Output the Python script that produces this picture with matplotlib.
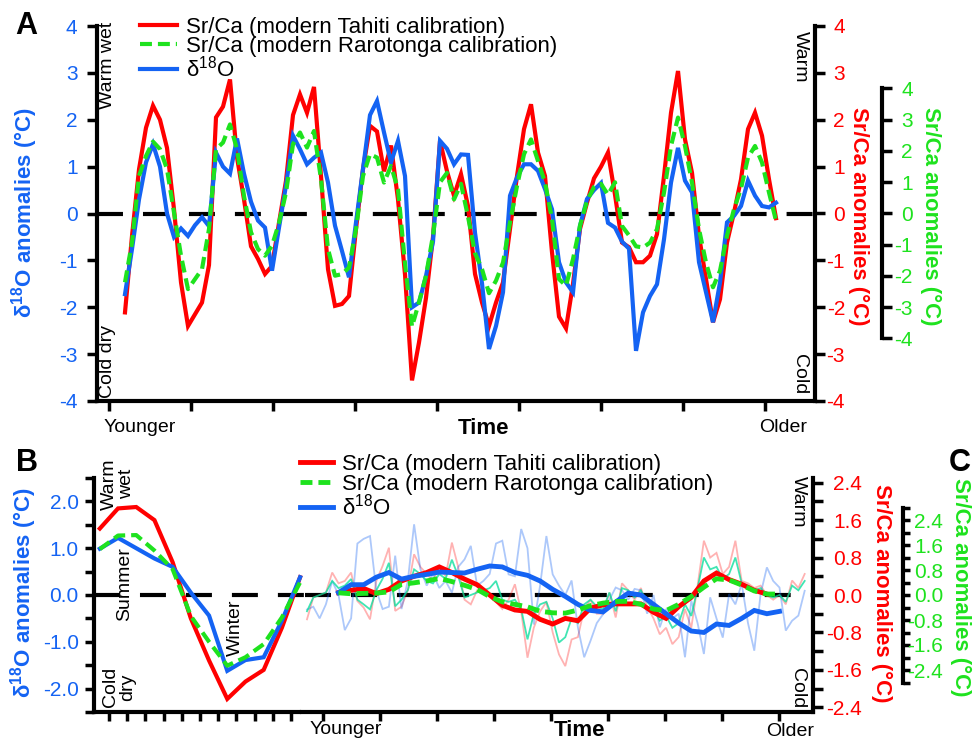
import numpy as np
import matplotlib
matplotlib.use("Agg")
import matplotlib.pyplot as plt
from matplotlib.lines import Line2D

W, H = 974, 740

# ---------------- data ----------------
# Panel A: anomalies (deg C), one value per sample
tahiti_a = [-2.11, -0.48, 0.94, 1.83, 2.30, 2.00, 1.40, 0.09, -1.47, -2.40,
            -2.15, -1.90, -1.10, 2.05, 2.28, 2.86, 1.20, 0.30, -0.70, -0.97,
            -1.29, -1.12, -0.20, 0.70, 2.10, 2.54, 2.15, 2.70, 0.80, -1.19,
            -1.97, -1.93, -1.76, -0.33, 0.95, 1.87, 1.75, 0.90, 1.45, 0.30,
            -1.30, -3.56, -2.75, -1.80, -0.50, 1.55, 0.90, 0.38, 0.84, 0.16,
            -1.29, -1.90, -2.40, -1.90, -1.47, -0.33, 0.80, 1.80, 2.33, 1.30,
            0.80, -0.83, -2.20, -2.45, -1.50, -0.33, 0.23, 0.75, 1.00, 1.30,
            0.40, -0.62, -0.72, -1.04, -1.04, -0.90, -0.44, 0.80, 2.15, 3.04,
            1.58, 0.87, -0.48, -1.40, -2.32, -1.83, -0.62, 0.02, 0.73, 1.80,
            2.15, 1.66, 0.73, -0.10]
rarotonga_a = [-2.20, -0.93, 1.20, 1.84, 2.30, 2.06, 1.42, 0.03, -1.35, -2.42,
               -2.10, -1.78, -0.50, 2.06, 2.27, 2.85, 2.06, 0.56, -0.60, -1.14,
               -1.35, -1.03, -0.30, 0.67, 2.22, 2.59, 2.11, 2.64, 1.10, -1.14,
               -1.99, -1.94, -1.73, -0.50, 1.20, 1.90, 1.79, 0.99, 1.52, 0.78,
               -1.60, -3.62, -2.84, -1.99, -0.70, 1.00, 1.30, 0.45, 0.95, -0.10,
               -1.27, -1.78, -2.55, -2.15, -1.57, -0.29, 0.88, 1.90, 2.37, 1.68,
               0.99, -0.18, -2.10, -2.31, -1.46, -0.39, 0.40, 0.85, 0.95, 0.60,
               1.00, -0.40, -0.70, -1.05, -1.09, -0.93, -0.50, 0.67, 2.16, 3.07,
               2.16, 0.99, -0.50, -1.57, -2.36, -1.83, -0.71, 0.14, 0.80, 1.79,
               2.16, 1.63, 0.67, -0.23]
d18o_a = [-1.72, -0.76, 0.30, 1.09, 1.48, 1.00, 0.00, -0.50, -0.32, -0.48,
          -0.25, -0.08, -0.27, 1.30, 1.00, 0.85, 1.60, 0.85, 0.25, -0.15,
          -0.30, -1.22, -0.30, 0.60, 1.66, 1.37, 1.05, 1.19, 1.30, 0.66,
          -0.26, -0.80, -1.36, -0.19, 0.95, 2.10, 2.40, 1.73, 1.09, 1.55,
          0.80, -2.00, -1.90, -1.33, -0.60, 1.55, 1.38, 1.05, 1.26, 1.25,
          -0.41, -1.49, -2.89, -2.40, -1.68, 0.38, 0.77, 1.05, 1.05, 0.91,
          0.52, 0.09, -1.04, -1.47, -1.68, -0.26, 0.31, 0.50, 0.65, -0.20,
          -0.30, -0.60, -0.75, -2.93, -2.11, -1.76, -1.51, -0.55, 0.66, 1.40,
          0.70, 0.45, -1.04, -1.68, -2.32, -1.47, -0.19, -0.05, 0.16, 0.70,
          0.38, 0.16, 0.13, 0.23]

# Panel B: mean seasonal cycle (12 months)
tahiti_b = [1.42, 1.85, 1.88, 1.60, 0.70, -0.50, -1.40, -2.22, -1.85, -1.60, -0.70, 0.38]
rarotonga_b = [0.98, 1.27, 1.28, 0.95, 0.55, -0.45, -1.00, -1.51, -1.33, -1.05, -0.48, 0.27]
d18o_b = [0.99, 1.22, 1.00, 0.78, 0.60, 0.05, -0.44, -1.62, -1.39, -1.33, -0.55, 0.38]

# Panel C: deseasonalised anomalies, raw and running mean
tahiti_c_raw = [-0.52, -0.05, 0.00, 0.05, 0.48, 0.25, 0.30, 0.48, -0.13, -0.27,
                -0.52, 0.30, 0.62, 1.01, -0.34, -0.25, 0.10, 0.87, 0.60, 0.45,
                0.30, 0.62, 0.40, 1.12, 0.60, -0.10, -0.20, 0.10, 0.05, 0.00,
                -0.15, -0.30, -0.10, 0.23, -0.35, -1.34, -0.70, -0.35, -0.15, -0.80,
                -1.27, -1.52, -0.95, -0.90, -0.30, -0.10, -0.40, -0.40, 0.05, -0.48,
                0.25, 0.10, -0.10, 0.15, -0.25, -0.50, -0.84, -0.70, -1.05, -0.90,
                -0.30, -0.70, 0.20, 1.16, 0.80, 0.90, 0.45, 0.60, 1.16, 0.30,
                0.25, 0.15, 0.20, 0.00, -0.10, 0.00, -0.20, 0.31, 0.15, 0.45]
rarotonga_c_raw = [-0.52, -0.08, 0.00, 0.08, 0.45, 0.22, 0.30, 0.51, -0.15, -0.30,
                   -0.46, 0.15, 0.52, 1.03, -0.36, -0.15, 0.15, 0.82, 0.67, 0.45,
                   0.37, 0.67, 0.52, 1.13, 0.60, -0.08, 0.00, 0.08, 0.15, 0.22,
                   0.45, -0.15, -0.22, -0.15, -0.45, -1.42, -0.60, -0.30, -0.22, -0.75,
                   -1.52, -1.35, -0.75, -0.90, -0.30, -0.15, -0.37, -0.45, 0.08, -0.52,
                   0.22, 0.15, -0.08, 0.15, -0.22, -0.45, -0.82, -0.67, -1.05, -0.90,
                   -0.30, -0.67, 0.22, 1.20, 0.82, 0.90, 0.52, 0.67, 1.20, 0.37,
                   0.30, 0.15, 0.22, 0.00, -0.08, 0.00, -0.22, 0.30, 0.15, 0.45]
d18o_c_raw = [-0.31, -0.25, -0.50, -0.20, 0.30, 0.00, -0.75, -0.50, 1.10, 1.20,
              1.26, 0.10, -0.30, -0.25, 0.84, -0.30, 0.30, 1.51, 0.55, 0.20,
              0.45, 0.15, 0.30, 0.05, 0.60, 0.76, 1.05, 0.20, 0.30, 0.45,
              1.10, 1.16, 0.44, 0.40, 1.41, 1.00, -0.63, 0.20, 1.26, 0.44,
              0.20, 0.00, 0.31, -0.69, -1.33, -0.98, -0.60, -0.41, -0.10, 0.16,
              0.10, -0.10, 0.13, 0.10, -0.40, 0.00, -0.69, -0.30, -0.50, -0.40,
              -1.33, -0.12, -0.60, -1.26, -0.05, -0.50, -0.91, 0.02, -0.20, 0.24,
              -0.60, -1.19, 0.02, 0.59, 0.30, 0.16, -0.76, -0.55, -0.44, 0.09]
tahiti_c_smooth = [0.05, 0.10, 0.14, 0.03, 0.12, 0.30, 0.40, 0.48, 0.60, 0.48,
                   0.34, 0.22, 0.00, -0.22, -0.32, -0.35, -0.52, -0.62, -0.50, -0.55,
                   -0.28, -0.21, -0.19, -0.19, -0.19, -0.37, -0.50, -0.25, -0.05, 0.30,
                   0.47, 0.33, 0.23, 0.10, 0.02, np.nan]
rarotonga_c_smooth = [0.07, 0.04, 0.05, 0.06, 0.10, 0.34, 0.39, 0.45, 0.53, 0.43,
                      0.31, 0.18, -0.05, -0.22, -0.30, -0.38, -0.52, -0.57, -0.58, -0.48,
                      -0.34, -0.26, -0.21, -0.20, -0.30, -0.45, -0.50, -0.30, -0.05, 0.25,
                      0.52, 0.48, 0.32, 0.13, 0.03, 0.03]
d18o_c_smooth = [0.05, 0.22, 0.22, 0.38, 0.48, 0.34, 0.40, 0.44, 0.49, 0.48,
                 0.47, 0.55, 0.62, 0.60, 0.48, 0.42, 0.30, 0.12, -0.03, -0.20,
                 -0.33, -0.36, -0.15, 0.04, 0.00, -0.20, -0.40, -0.60, -0.77, -0.80,
                 -0.62, -0.65, -0.50, -0.33, -0.40, -0.35]

legend_labels = ["Sr/Ca (modern Tahiti calibration)",
                 "Sr/Ca (modern Rarotonga calibration)",
                 "δ$^{18}$O"]

RED = "#ff0000"
GREEN = "#1ee21e"
BLUE = "#1463f3"
TURQ = "#00dd99"
ZERO_DASH = (18.7, 14.4)
GREEN_DASH = (8.6, 4.3)

plt.rcParams.update({
    "font.family": "Liberation Sans",
    "mathtext.fontset": "custom",
    "mathtext.rm": "Liberation Sans",
    "mathtext.bf": "Liberation Sans:bold",
    "mathtext.it": "Liberation Sans:italic",
    "axes.unicode_minus": False,
    "lines.scale_dashes": False,
    "lines.solid_joinstyle": "miter",
})


def rect(l, t, r, b):
    return [l / W, 1 - b / H, (r - l) / W, (b - t) / H]


def ftext(x, y, s, **kw):
    kw.setdefault("ha", "center")
    kw.setdefault("va", "center")
    return fig.text(x / W, 1 - y / H, s, **kw)


def clean(ax, keep):
    for side, sp in ax.spines.items():
        sp.set_visible(side in keep)
        sp.set_linewidth(3)


def right_labels(ax, color, pad, length=7):
    ax.tick_params(axis="y", direction="out", length=length, width=2.5,
                   labelsize=15, labelcolor=color, pad=pad)
    for t in ax.get_yticklabels():
        t.set_ha("right")


fig = plt.figure(figsize=(W / 100, H / 100), dpi=100)

# ---------------- panel A ----------------
axA = fig.add_axes(rect(97, 26, 815, 401))
axR = axA.twinx()
axG = axA.twinx()
xa = np.arange(len(tahiti_a))
axA.axhline(0, color="k", lw=3, dashes=ZERO_DASH)
lr, = axA.plot(xa, tahiti_a, color=RED, lw=3)
lb, = axA.plot(xa, d18o_a, color=BLUE, lw=3)
lg, = axG.plot(xa, rarotonga_a, color=GREEN, lw=3, dashes=GREEN_DASH)
axA.set_xlim(-4, 98.57)
axA.set_ylim(-4, 4)
axR.set_ylim(-4, 4)
axG.set_ylim(-6, 6)
axA.set_xticks(-16 / 7 + np.arange(9) * 82 / 7)
axA.tick_params(axis="x", direction="out", length=7, width=2.5, labelbottom=False)
axA.set_yticks(range(-4, 5))
axA.tick_params(axis="y", direction="out", length=7, width=2.5, labelsize=15,
                labelcolor=BLUE, pad=7)
clean(axA, ["left", "bottom"])
clean(axR, ["right"])
clean(axG, ["right"])
axR.set_yticks(range(-4, 5))
right_labels(axR, RED, 14.6)
axG.spines["right"].set_position(("axes", (882 - 97) / 718))
axG.spines["right"].set_bounds(-4, 4)
axG.set_yticks(range(-4, 5))
right_labels(axG, GREEN, 15.3)
axG.legend([lr, lg, lb], legend_labels, loc="upper left",
           bbox_to_anchor=(140 / W, 1 - 17 / H), bbox_transform=fig.transFigure,
           frameon=False, fontsize=16, handlelength=1.65, handletextpad=0.4,
           labelspacing=-0.08, borderpad=0, borderaxespad=0)

# ---------------- panel B ----------------
axB = fig.add_axes(rect(94, 478, 305, 712))
xb = np.arange(len(tahiti_b))
axB.axhline(0, color="k", lw=3, dashes=ZERO_DASH)
axB.plot(xb, tahiti_b, color=RED, lw=3)
axB.plot(xb, d18o_b, color=BLUE, lw=3)
axB.plot(xb, rarotonga_b, color=GREEN, lw=3, dashes=GREEN_DASH)
axB.set_xlim(-0.32, 11.27)
axB.set_ylim(-2.5, 2.5)
axB.set_xticks(np.arange(11) + 0.5)
axB.tick_params(axis="x", direction="out", length=6.5, width=2.5, labelbottom=False)
yb = np.arange(-2.5, 2.51, 0.5)
axB.set_yticks(yb)
axB.set_yticklabels(["%.1f" % (round(v, 1) + 0.0) if i % 2 else "" for i, v in enumerate(yb)])
axB.tick_params(axis="y", direction="out", length=6.5, width=2.5, labelsize=15,
                labelcolor=BLUE, pad=4.5)
clean(axB, ["left", "bottom"])
axB.spines["bottom"].set_bounds(-0.32, 10.95)

# ---------------- panel C ----------------
axC = fig.add_axes(rect(305, 478, 813, 712))
axCG = axC.twinx()
xc = np.arange(len(tahiti_c_raw))
xs = np.arange(5, 5 + 2 * len(d18o_c_smooth), 2)
axC.axhline(0, color="k", lw=3, dashes=ZERO_DASH)
axC.plot(xc, tahiti_c_raw, color=RED, alpha=0.3, lw=1.3)
axC.plot(xc, d18o_c_raw, color=BLUE, alpha=0.35, lw=1.3)
axC.plot(xc, rarotonga_c_raw, color=TURQ, alpha=0.75, lw=1.3, transform=axCG.transData)
cr, = axC.plot(xs, tahiti_c_smooth, color=RED, lw=3.5)
cb, = axC.plot(xs, d18o_c_smooth, color=BLUE, lw=3.5)
cg, = axCG.plot(xs, rarotonga_c_smooth, color=GREEN, lw=3.5, dashes=GREEN_DASH)
axC.set_xlim(-0.317, 80.32)
axC.set_ylim(-2.5, 2.5)
axCG.set_ylim(-117 / 31.25, 117 / 31.25)
axC.set_xticks(16 / 6.3 + np.arange(9) * 57 / 6.3)
axC.tick_params(axis="x", direction="out", length=6.5, width=2.5, labelbottom=False)
clean(axC, ["right", "bottom"])
clean(axCG, ["right"])
axC.spines["bottom"].set_bounds(0.95, 80.32)
axC.yaxis.tick_right()
yc = np.arange(-2.4, 2.41, 0.4)
axC.set_yticks(yc)
axC.set_yticklabels(["%.1f" % (round(v, 1) + 0.0) if i % 2 == 0 else "" for i, v in enumerate(yc)])
right_labels(axC, RED, 28.3)
ycg = np.arange(-2.8, 2.81, 0.4)
axCG.spines["right"].set_position(("axes", (903 - 305) / 508))
axCG.spines["right"].set_bounds(-2.8, 2.8)
axCG.set_yticks(ycg)
axCG.set_yticklabels(["%.1f" % (round(v, 1) + 0.0) if i % 2 else "" for i, v in enumerate(ycg)])
right_labels(axCG, GREEN, 23.8, length=5)
axCG.legend([cr, cg, cb], legend_labels, loc="upper left",
            bbox_to_anchor=(300 / W, 1 - 454 / H), bbox_transform=fig.transFigure,
            frameon=False, fontsize=16, handlelength=1.5, handletextpad=0.4,
            labelspacing=-0.05, borderpad=0, borderaxespad=0)

# axis break between B and C
fig.add_artist(Line2D([302 / W, 309 / W], [1 - 712 / H] * 2, color="k", lw=3,
                      transform=fig.transFigure))

# ---------------- texts ----------------
ylab = "δ$^{\\mathbf{18}}$O anomalies (°C)"
srlab = "Sr/Ca anomalies (°C)"
ftext(25, 213, ylab, rotation=90, color=BLUE, fontsize=16, fontweight="bold")
ftext(859, 216, srlab, rotation=-90, color=RED, fontsize=16, fontweight="bold")
ftext(931, 216, srlab, rotation=-90, color=GREEN, fontsize=16, fontweight="bold")
ftext(24, 593, ylab, rotation=90, color=BLUE, fontsize=16, fontweight="bold")
ftext(882, 593, srlab, rotation=-90, color=RED, fontsize=16, fontweight="bold")
ftext(961, 587, srlab, rotation=-90, color=GREEN, fontsize=16, fontweight="bold")

ftext(26, 26, "A", fontsize=22, fontweight="bold")
ftext(27, 463, "B", fontsize=22, fontweight="bold")
ftext(960, 463, "C", fontsize=22, fontweight="bold")

ftext(107, 65, "Warm wet", rotation=90, fontsize=14)
ftext(107, 362, "Cold dry", rotation=90, fontsize=14)
ftext(800, 57, "Warm", rotation=-90, fontsize=14)
ftext(800, 374, "Cold", rotation=-90, fontsize=14)
ftext(140, 427, "Younger", fontsize=14)
ftext(484, 428, "Time", fontsize=16, fontweight="bold")
ftext(783, 427, "Older", fontsize=14)

ftext(118, 484, "Warm\nwet", rotation=90, fontsize=14, ma="center", linespacing=0.95)
ftext(125, 584, "Summer", rotation=90, fontsize=14)
ftext(235, 628, "Winter", rotation=90, fontsize=14)
ftext(119, 687, "Cold\ndry", rotation=90, fontsize=14, ma="center", linespacing=0.95)
ftext(798, 502, "Warm", rotation=-90, fontsize=14)
ftext(798, 688, "Cold", rotation=-90, fontsize=14)
ftext(346, 729, "Younger", fontsize=14)
ftext(579, 730, "Time", fontsize=16, fontweight="bold")
ftext(790, 731, "Older", fontsize=14)

fig.savefig("out.png", dpi=100)
